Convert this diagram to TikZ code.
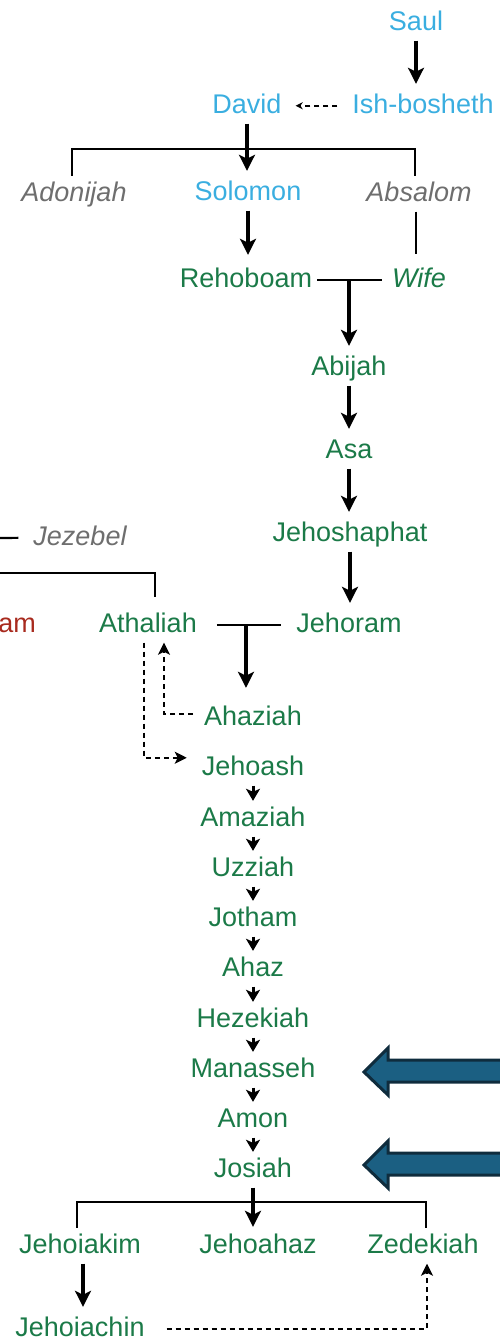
\documentclass[tikz,border=0pt]{standalone}
\usepackage{fontspec}
\setmainfont{Liberation Sans}
\usetikzlibrary{arrows.meta}

\definecolor{unitedblue}{HTML}{3AAEE0}
\definecolor{judahgreen}{HTML}{1B7A48}
\definecolor{othergray}{HTML}{6E6E6E}
\definecolor{israelred}{HTML}{A82A1E}
\definecolor{pointerfill}{HTML}{1B5F82}
\definecolor{pointerdraw}{HTML}{0F2C3D}

\tikzset{
  person/.style={font=\fontsize{27}{32}\selectfont, anchor=base, text height=20pt, text depth=5.5pt, inner xsep=5pt, inner ysep=5pt},
  united/.style={person, text=unitedblue},
  judah/.style={person, text=judahgreen},
  spouse/.style={judah, font=\fontsize{27}{32}\selectfont\itshape},
  relative/.style={person, text=othergray, font=\fontsize{27}{32}\selectfont\itshape},
  israel/.style={person, text=israelred},
  kin/.style={line width=2.2pt},
  descent/.style={line width=3.6pt, -{Stealth[length=16pt,width=16pt,inset=4pt]}, shorten >=4pt},
  succession/.style={line width=3pt, -{Stealth[length=12pt,width=14pt,inset=3pt]}},
  transfer/.style={line width=2.2pt, dash pattern=on 5pt off 4pt, -{Stealth[length=12pt,width=12pt,inset=3pt]}},
  pointer/.style={draw=pointerdraw, fill=pointerfill, line width=3pt, line join=miter}
}

\begin{document}
\begin{tikzpicture}[x=1pt,y=-1pt]
\useasboundingbox (0,0) rectangle (500,1341);

% united kingdom
\node[united] (saul) at (416,30) {Saul};
\node[united] (david) at (247,113) {David};
\node[united] (ishbosheth) at (423,113) {Ish-bosheth};
\node[relative] (adonijah) at (74,201) {Adonijah};
\node[united] (solomon) at (248,200) {Solomon};
\node[relative] (absalom) at (419,201) {Absalom};

% judah
\node[judah] (rehoboam) at (246,287) {Rehoboam};
\node[spouse] (wife) at (419,287) {Wife};
\node[judah] (abijah) at (349,375) {Abijah};
\node[judah] (asa) at (349,458) {Asa};
\node[judah] (jehoshaphat) at (350,541) {Jehoshaphat};
\node[relative] (jezebel) at (80,545) {Jezebel};
\node[israel, anchor=base east] (am) at (41,632) {am};
\node[judah] (athaliah) at (148,632) {Athaliah};
\node[judah] (jehoram) at (349,632) {Jehoram};
\node[judah] (ahaziah) at (253,725) {Ahaziah};
\node[judah] (jehoash) at (253,775) {Jehoash};
\node[judah] (amaziah) at (253,826) {Amaziah};
\node[judah] (uzziah) at (253,876) {Uzziah};
\node[judah] (jotham) at (253,926) {Jotham};
\node[judah] (ahaz) at (253,976) {Ahaz};
\node[judah] (hezekiah) at (253,1027) {Hezekiah};
\node[judah] (manasseh) at (253,1077) {Manasseh};
\node[judah] (amon) at (253,1127) {Amon};
\node[judah] (josiah) at (253,1177) {Josiah};
\node[judah] (jehoiakim) at (80,1253) {Jehoiakim};
\node[judah] (jehoahaz) at (258,1253) {Jehoahaz};
\node[judah] (zedekiah) at (423,1253) {Zedekiah};
\node[judah] (jehoiachin) at (80,1336) {Jehoiachin};

\coordinate (sons) at (246,149);
\coordinate (ahab) at (0,538);
\coordinate (ahabchildren) at (0,573);
\coordinate (josiahsons) at (253,1202);

% family lines
\draw[kin] ([xshift=-2pt]adonijah.north) |- (sons) -| ([xshift=-4pt]absalom.north);
\draw[kin, shorten >=8pt] ([xshift=-3pt]absalom.south) -- ([xshift=-3pt]absalom.south |- wife.north);
\draw[kin, shorten >=5pt] (rehoboam.east) -- (wife.west);
\coordinate (m1) at (rehoboam.east -| abijah);
\draw[kin, shorten >=10pt] (ahab) -- (jezebel.west);
\draw[kin, shorten >=10pt] (ahabchildren) -| ([xshift=7pt]athaliah.north);
\draw[kin, shorten <=15pt, shorten >=10pt] (athaliah.east) -- (jehoram.west);
\coordinate (m2) at ([xshift=44pt]athaliah.east);
\draw[kin] ([xshift=-3pt]jehoiakim.north) |- (josiahsons) -| ([xshift=3pt]zedekiah.north);

% descent
\draw[descent] (saul.south) -- (saul.south |- ishbosheth.north);
\draw[descent] (david.south) -- (david.south |- solomon.north);
\draw[descent, shorten >=7pt] (solomon.south) -- (solomon.south |- rehoboam.north);
\draw[descent] (m1) -- (abijah.north);
\draw[descent] (abijah.south) -- (asa.north);
\draw[descent] (asa.south) -- (asa.south |- jehoshaphat.north);
\draw[descent] (jehoshaphat.south) -- (jehoshaphat.south |- jehoram.north);
\draw[descent, shorten >=12pt] (m2) -- (m2 |- ahaziah.north);
\foreach \a/\b in {jehoash/amaziah, amaziah/uzziah, uzziah/jotham, jotham/ahaz, ahaz/hezekiah, hezekiah/manasseh, manasseh/amon, amon/josiah}
  \draw[succession] (\a.south) -- (\b.north);
\draw[descent, shorten >=1pt] (josiah.south) -- (josiah.south |- jehoahaz.north);
\draw[descent] ([xshift=3pt]jehoiakim.south) -- ([xshift=3pt]jehoiakim.south |- jehoiachin.north);

% throne passing
\draw[transfer, line width=1.8pt, -{Stealth[length=7pt,width=7pt]}, shorten <=10pt, shorten >=9pt] (ishbosheth.west) -- (david.east);
\draw[transfer, shorten <=6pt] ([yshift=4pt]ahaziah.west) -| ([xshift=16pt]athaliah.south);
\draw[transfer, shorten >=10pt] ([xshift=-4pt]athaliah.south) |- ([yshift=10pt]jehoash.west);
\draw[transfer, shorten <=17pt] (jehoiachin.east) -| ([xshift=4pt]zedekiah.south);

% pointers
\foreach \ty in {1072,1165}
  \draw[pointer] (364,\ty) -- (388,\ty-24) -- (388,\ty-12) -- (510,\ty-12) -- (510,\ty+10) -- (388,\ty+10) -- (388,\ty+23) -- cycle;
\end{tikzpicture}
\end{document}
